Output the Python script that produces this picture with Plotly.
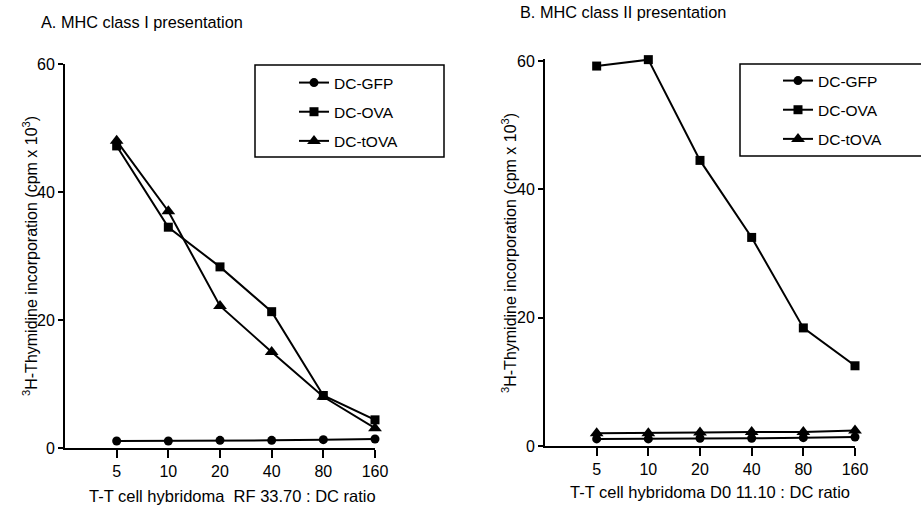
import plotly.graph_objects as go

ratios = ["5", "10", "20", "40", "80", "160"]

# Panel A: MHC class I presentation
a_gfp = [1.1, 1.1, 1.2, 1.2, 1.3, 1.4]
a_ova = [47.2, 34.5, 28.3, 21.3, 8.2, 4.4]
a_tova = [48.0, 37.0, 22.2, 15.0, 8.0, 3.1]

# Panel B: MHC class II presentation
b_gfp = [1.1, 1.1, 1.2, 1.2, 1.3, 1.4]
b_ova = [59.2, 60.2, 44.5, 32.5, 18.4, 12.5]
b_tova = [2.0, 2.0, 2.1, 2.2, 2.2, 2.4]

series_names = ["DC-GFP", "DC-OVA", "DC-tOVA"]
symbols = ["circle", "square", "triangle-up"]
sizes = [9, 9, 12]

W, H = 921, 506
FONT = "Liberation Sans, Arial, sans-serif"

fig = go.Figure()

for i, (name, vals) in enumerate(zip(series_names, [a_gfp, a_ova, a_tova])):
    fig.add_trace(go.Scatter(
        x=ratios, y=vals, name=name, mode="lines+markers",
        line=dict(color="black", width=2),
        marker=dict(symbol=symbols[i], size=sizes[i], color="black"),
        xaxis="x", yaxis="y", legend="legend", legendgroup="a" + str(i),
        cliponaxis=False,
    ))
for i, (name, vals) in enumerate(zip(series_names, [b_gfp, b_ova, b_tova])):
    fig.add_trace(go.Scatter(
        x=ratios, y=vals, name=name, mode="lines+markers",
        line=dict(color="black", width=2),
        marker=dict(symbol=symbols[i], size=sizes[i], color="black"),
        xaxis="x2", yaxis="y2", legend="legend2", legendgroup="b" + str(i),
        cliponaxis=False,
    ))

def px_x(p):
    return p / W

def px_y(p):
    return (H - p) / H

xcommon = dict(
    type="category", range=[-1, 5], showline=True, linecolor="black", linewidth=2,
    ticks="outside", ticklen=8, tickwidth=1.5, tickcolor="black",
    showgrid=False, zeroline=False, tickfont=dict(size=16, color="black"),
    automargin=False,
)
ycommon = dict(
    tickvals=[0, 20, 40, 60], showline=True, linecolor="black", linewidth=2,
    ticks="outside", ticklen=5, tickwidth=1.5, tickcolor="black",
    showgrid=False, zeroline=False, tickfont=dict(size=16, color="black"),
    automargin=False,
)
ytitle = "<sup>3</sup>H-Thymidine incorporation (cpm x 10<sup>3</sup>)"

def note(text, x, y, size, angle=0, anchor="center"):
    return dict(text=text, xref="paper", yref="paper", x=px_x(x), y=px_y(y),
                xanchor=anchor, yanchor="middle", textangle=angle,
                showarrow=False, font=dict(size=size, color="black"))

fig.update_layout(
    width=W, height=H,
    margin=dict(l=0, r=0, t=0, b=0, autoexpand=False),
    paper_bgcolor="white", plot_bgcolor="white",
    font=dict(family=FONT, size=15, color="black"),
    xaxis=dict(domain=[px_x(65), px_x(375)], anchor="y", **xcommon),
    yaxis=dict(domain=[px_y(448), px_y(64)], anchor="x", range=[0, 60], **ycommon),
    xaxis2=dict(domain=[px_x(545), px_x(855)], anchor="y2", **xcommon),
    yaxis2=dict(domain=[px_y(446), px_y(59)], anchor="x2", range=[0, 60.3], **ycommon),
    legend=dict(x=px_x(294), y=px_y(66), xanchor="left", yanchor="top",
                bgcolor="rgba(0,0,0,0)", borderwidth=0, tracegroupgap=6,
                font=dict(size=15.5, color="black")),
    legend2=dict(x=px_x(778), y=px_y(64), xanchor="left", yanchor="top",
                 bgcolor="rgba(0,0,0,0)", borderwidth=0, tracegroupgap=6,
                 font=dict(size=15.5, color="black")),
    shapes=[
        dict(type="rect", xref="paper", yref="paper",
             x0=px_x(255), x1=px_x(444), y0=px_y(157), y1=px_y(65),
             line=dict(color="black", width=1.5)),
        dict(type="rect", xref="paper", yref="paper",
             x0=px_x(740), x1=px_x(940), y0=px_y(156), y1=px_y(64),
             line=dict(color="black", width=1.5)),
    ],
    annotations=[
        note("A. MHC class I presentation", 39, 22, 16.3, anchor="left"),
        note("B. MHC class II presentation", 518, 12, 16.3, anchor="left"),
        note("T-T cell hybridoma&nbsp; RF 33.70 : DC ratio", 232, 496, 16.5),
        note("T-T cell hybridoma D0 11.10 : DC ratio", 710, 492, 16.5),
        note(ytitle, 30, 256, 16, angle=-90),
        note(ytitle, 509, 253, 16, angle=-90),
    ],
)

fig.write_html(
    "out.html",
    config={"displayModeBar": False},
    post_script="document.body.style.margin='0';document.body.style.overflow='hidden';",
)
